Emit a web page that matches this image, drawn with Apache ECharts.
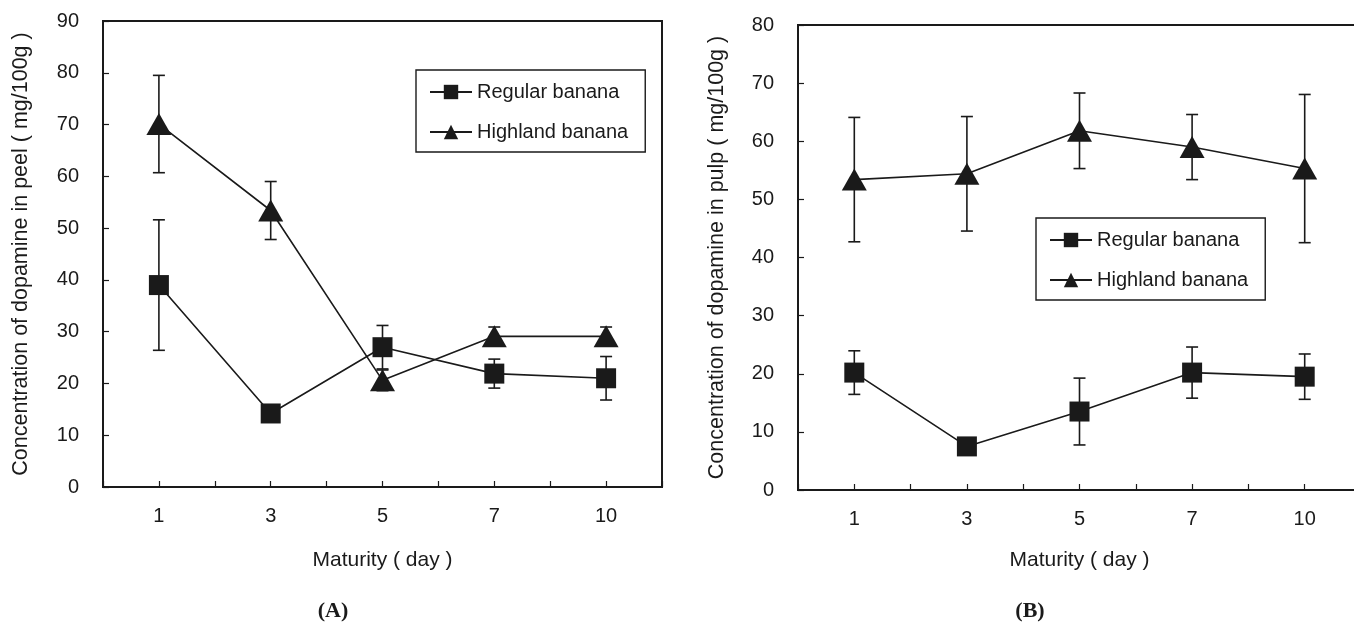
<!DOCTYPE html>
<html>
<head>
<meta charset="utf-8">
<script src="https://cdn.jsdelivr.net/npm/echarts@6/dist/echarts.min.js"></script>
<style>html,body{margin:0;padding:0;background:#fff;overflow:hidden;width:1354px;height:624px;}#c{width:1362px;height:624px;}</style>
</head>
<body>
<div id="c"></div>
<script>
// ---- data ----
var categories = ['1', '3', '5', '7', '10'];
var peelRegular = [39.0, 14.2, 27.0, 21.9, 21.0];
var peelRegularSD = [12.6, 1.0, 4.2, 2.8, 4.2];
var peelHighland = [70.1, 53.4, 20.6, 29.1, 29.1];
var peelHighlandSD = [9.4, 5.6, 2.0, 1.8, 1.8];
var pulpRegular = [20.2, 7.5, 13.5, 20.2, 19.5];
var pulpRegularSD = [3.75, 1.0, 5.75, 4.4, 3.9];
var pulpHighland = [53.4, 54.4, 61.8, 59.0, 55.3];
var pulpHighlandSD = [10.7, 9.85, 6.5, 5.6, 12.75];
var peelTicks = {min: 0, max: 90, interval: 10};
var pulpTicks = {min: 0, max: 80, interval: 10};
var seriesNames = ['Regular banana', 'Highland banana'];

var FONT = "'Liberation Sans', Arial, sans-serif";
var INK = '#1a1a1a';

function errData(mean, sd) {
  return mean.map(function (m, i) { return [i, m - sd[i], m + sd[i]]; });
}
function errSeries(gi, mean, sd) {
  return {
    type: 'custom', xAxisIndex: gi * 2, yAxisIndex: gi, z: 1, silent: true,
    data: errData(mean, sd),
    encode: {x: 0, y: [1, 2]},
    renderItem: function (params, api) {
      var lo = api.coord([api.value(0), api.value(1)]);
      var hi = api.coord([api.value(0), api.value(2)]);
      var w = 6;
      var st = {stroke: INK, lineWidth: 1.6};
      return {type: 'group', children: [
        {type: 'line', shape: {x1: lo[0], y1: lo[1], x2: hi[0], y2: hi[1]}, style: st},
        {type: 'line', shape: {x1: lo[0] - w, y1: lo[1], x2: lo[0] + w, y2: lo[1]}, style: st},
        {type: 'line', shape: {x1: hi[0] - w, y1: hi[1], x2: hi[0] + w, y2: hi[1]}, style: st}
      ]};
    }
  };
}
function lineSeries(gi, name, data, symbol, size) {
  return {
    type: 'line', name: name, xAxisIndex: gi * 2, yAxisIndex: gi, z: 3,
    data: data, symbol: symbol, symbolSize: size,
    itemStyle: {color: INK, borderWidth: 0},
    lineStyle: {color: INK, width: 1.6},
    emphasis: {disabled: true}
  };
}
function xAxes(gi, gap) {
  return [
    {type: 'category', gridIndex: gi, data: categories, position: 'bottom',
     axisLine: {show: true, lineStyle: {color: INK, width: 2}},
     axisTick: {show: true, inside: true, length: 6, lineStyle: {color: INK, width: 1.2}},
     axisLabel: {show: true, margin: 19, fontSize: 20, fontFamily: FONT, color: INK},
     name: 'Maturity ( day )', nameLocation: 'middle', nameGap: gap,
     nameTextStyle: {fontSize: 21, fontFamily: FONT, color: INK},
     splitLine: {show: false}},
    {type: 'category', gridIndex: gi, data: categories, position: 'bottom',
     axisLine: {show: false},
     axisTick: {show: true, inside: true, alignWithLabel: true, length: 6, lineStyle: {color: INK, width: 1.2}},
     axisLabel: {show: false}, splitLine: {show: false}}
  ];
}
function yAxis(gi, t, title, gap) {
  return {type: 'value', gridIndex: gi, min: t.min, max: t.max, interval: t.interval,
    axisLine: {show: true, lineStyle: {color: INK, width: 2}},
    axisTick: {show: true, inside: true, length: 6, lineStyle: {color: INK, width: 1.2}},
    axisLabel: {margin: 24, fontSize: 20, fontFamily: FONT, color: INK},
    splitLine: {show: false},
    name: title, nameLocation: 'middle', nameGap: gap,
    nameTextStyle: {fontSize: 21.5, fontFamily: FONT, color: INK}};
}
function legend(left, top) {
  return {
    data: seriesNames.slice(),
    orient: 'vertical', left: left, top: top,
    itemWidth: 42, itemHeight: 18, itemGap: 20,
    padding: [12, 17, 10, 13],
    borderColor: INK, borderWidth: 1.4,
    selectedMode: false,
    textStyle: {fontSize: 20, fontFamily: FONT, color: INK}
  };
}

var chart = echarts.init(document.getElementById('c'), null, {renderer: 'canvas'});
chart.setOption({
  animation: false,
  backgroundColor: '#fff',
  grid: [
    {left: 103, right: 700, top: 21, bottom: 137, show: true, borderColor: INK, borderWidth: 2},
    {left: 798, right: 1, top: 25, bottom: 134, show: true, borderColor: INK, borderWidth: 2}
  ],
  xAxis: xAxes(0, 63).concat(xAxes(1, 60)),
  yAxis: [
    yAxis(0, peelTicks, 'Concentration of dopamine in peel ( mg/100g )', 71),
    yAxis(1, pulpTicks, 'Concentration of dopamine in pulp ( mg/100g )', 70)
  ],
  legend: [legend(416, 70), legend(1036, 218)],
  graphic: [
    {type: 'text', x: 333, y: 611, style: {text: '(A)', font: "bold 22px 'Liberation Serif', 'Times New Roman', serif", fill: INK, textAlign: 'center', textVerticalAlign: 'middle'}},
    {type: 'text', x: 1030, y: 611, style: {text: '(B)', font: "bold 22px 'Liberation Serif', 'Times New Roman', serif", fill: INK, textAlign: 'center', textVerticalAlign: 'middle'}}
  ],
  series: [
    errSeries(0, peelRegular, peelRegularSD),
    errSeries(0, peelHighland, peelHighlandSD),
    lineSeries(0, seriesNames[0], peelRegular, 'rect', 20),
    lineSeries(0, seriesNames[1], peelHighland, 'triangle', [25, 22]),
    errSeries(1, pulpRegular, pulpRegularSD),
    errSeries(1, pulpHighland, pulpHighlandSD),
    lineSeries(1, seriesNames[0], pulpRegular, 'rect', 20),
    lineSeries(1, seriesNames[1], pulpHighland, 'triangle', [25, 22])
  ]
});
</script>
</body>
</html>
